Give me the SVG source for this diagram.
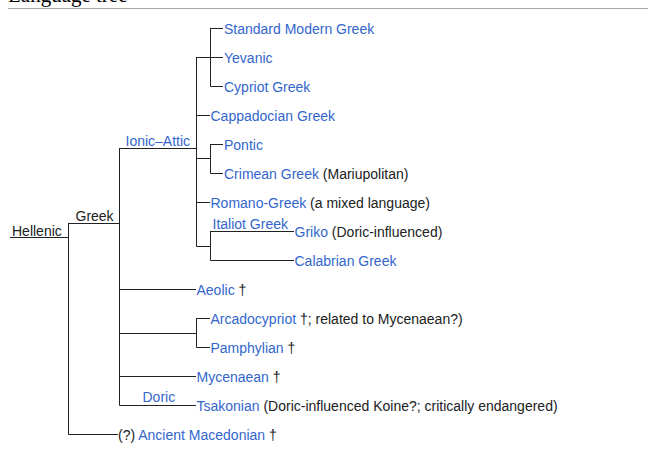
<svg xmlns="http://www.w3.org/2000/svg" width="648" height="462" viewBox="0 0 648 462">
<style>
text{font-family:"Liberation Sans",Arial,sans-serif;font-size:14px;fill:#202122}
.l{fill:#3366cc}
.h{font-family:"Liberation Serif","Times New Roman",serif;font-size:21px;fill:#000}
#connectors path{stroke:#202122;stroke-width:1;fill:none}
</style>
<rect width="648" height="462" fill="#fff"/>
<g id="header">
<text class="h" x="8" y="1.5">Language tree</text>
<rect x="8" y="8" width="640" height="1" fill="#a2a9b1"/>
</g>
<g id="connectors">
<path d="M10 237.5H68.5M68.5 223V434.5M68.5 223.5H119.5M119.5 148V405.5M119.5 148.5H196.5M196.5 57V246.5M196.5 57.5H210.5M210.5 28V86.5M210.5 28.5H223M210.5 57.5H223M210.5 86.5H223M196.5 115.5H210M196.5 158.5H210.5M210.5 144V173.5M210.5 144.5H223M210.5 173.5H223M196.5 202.5H210M196.5 246.5H210.5M210.5 231V260.5M210.5 231.5H294M210.5 260.5H294M119.5 289.5H196M119.5 333.5H196.5M196.5 318V347.5M196.5 318.5H210M196.5 347.5H210M119.5 376.5H196M119.5 405.5H196M68.5 434.5H118"/>
</g>
<g id="hellenic"><text x="12" y="236">Hellenic</text></g>
<g id="greek"><text x="75.5" y="221">Greek</text></g>
<g id="ionic-attic"><text class="l" x="125.5" y="146">Ionic–Attic</text></g>
<g id="standard-modern-greek"><text class="l" x="224" y="33.5">Standard Modern Greek</text></g>
<g id="yevanic"><text class="l" x="224" y="62.5">Yevanic</text></g>
<g id="cypriot-greek"><text class="l" x="224" y="91.5">Cypriot Greek</text></g>
<g id="cappadocian-greek"><text class="l" x="210.5" y="120.5">Cappadocian Greek</text></g>
<g id="pontic"><text class="l" x="224" y="149.5">Pontic</text></g>
<g id="crimean-greek"><text x="224" y="178.5"><tspan class="l">Crimean Greek</tspan> (Mariupolitan)</text></g>
<g id="romano-greek"><text x="210.5" y="207.5"><tspan class="l">Romano-Greek</tspan> (a mixed language)</text></g>
<g id="italiot-greek"><text class="l" x="212.5" y="229">Italiot Greek</text></g>
<g id="griko"><text x="294.5" y="236.5"><tspan class="l">Griko</tspan> (Doric-influenced)</text></g>
<g id="calabrian-greek"><text class="l" x="294.5" y="265.5">Calabrian Greek</text></g>
<g id="aeolic"><text x="196.5" y="294.5"><tspan class="l">Aeolic</tspan> †</text></g>
<g id="arcadocypriot"><text x="210.5" y="323.5"><tspan class="l">Arcadocypriot</tspan> †; related to Mycenaean?)</text></g>
<g id="pamphylian"><text x="210.5" y="352.5"><tspan class="l">Pamphylian</tspan> †</text></g>
<g id="mycenaean"><text x="196.5" y="381.5"><tspan class="l">Mycenaean</tspan> †</text></g>
<g id="doric"><text class="l" x="142.5" y="402">Doric</text></g>
<g id="tsakonian"><text x="196.5" y="410.5"><tspan class="l">Tsakonian</tspan> (Doric-influenced Koine?; critically endangered)</text></g>
<g id="ancient-macedonian"><text x="118" y="439.5">(?) <tspan class="l">Ancient Macedonian</tspan> †</text></g>
</svg>
